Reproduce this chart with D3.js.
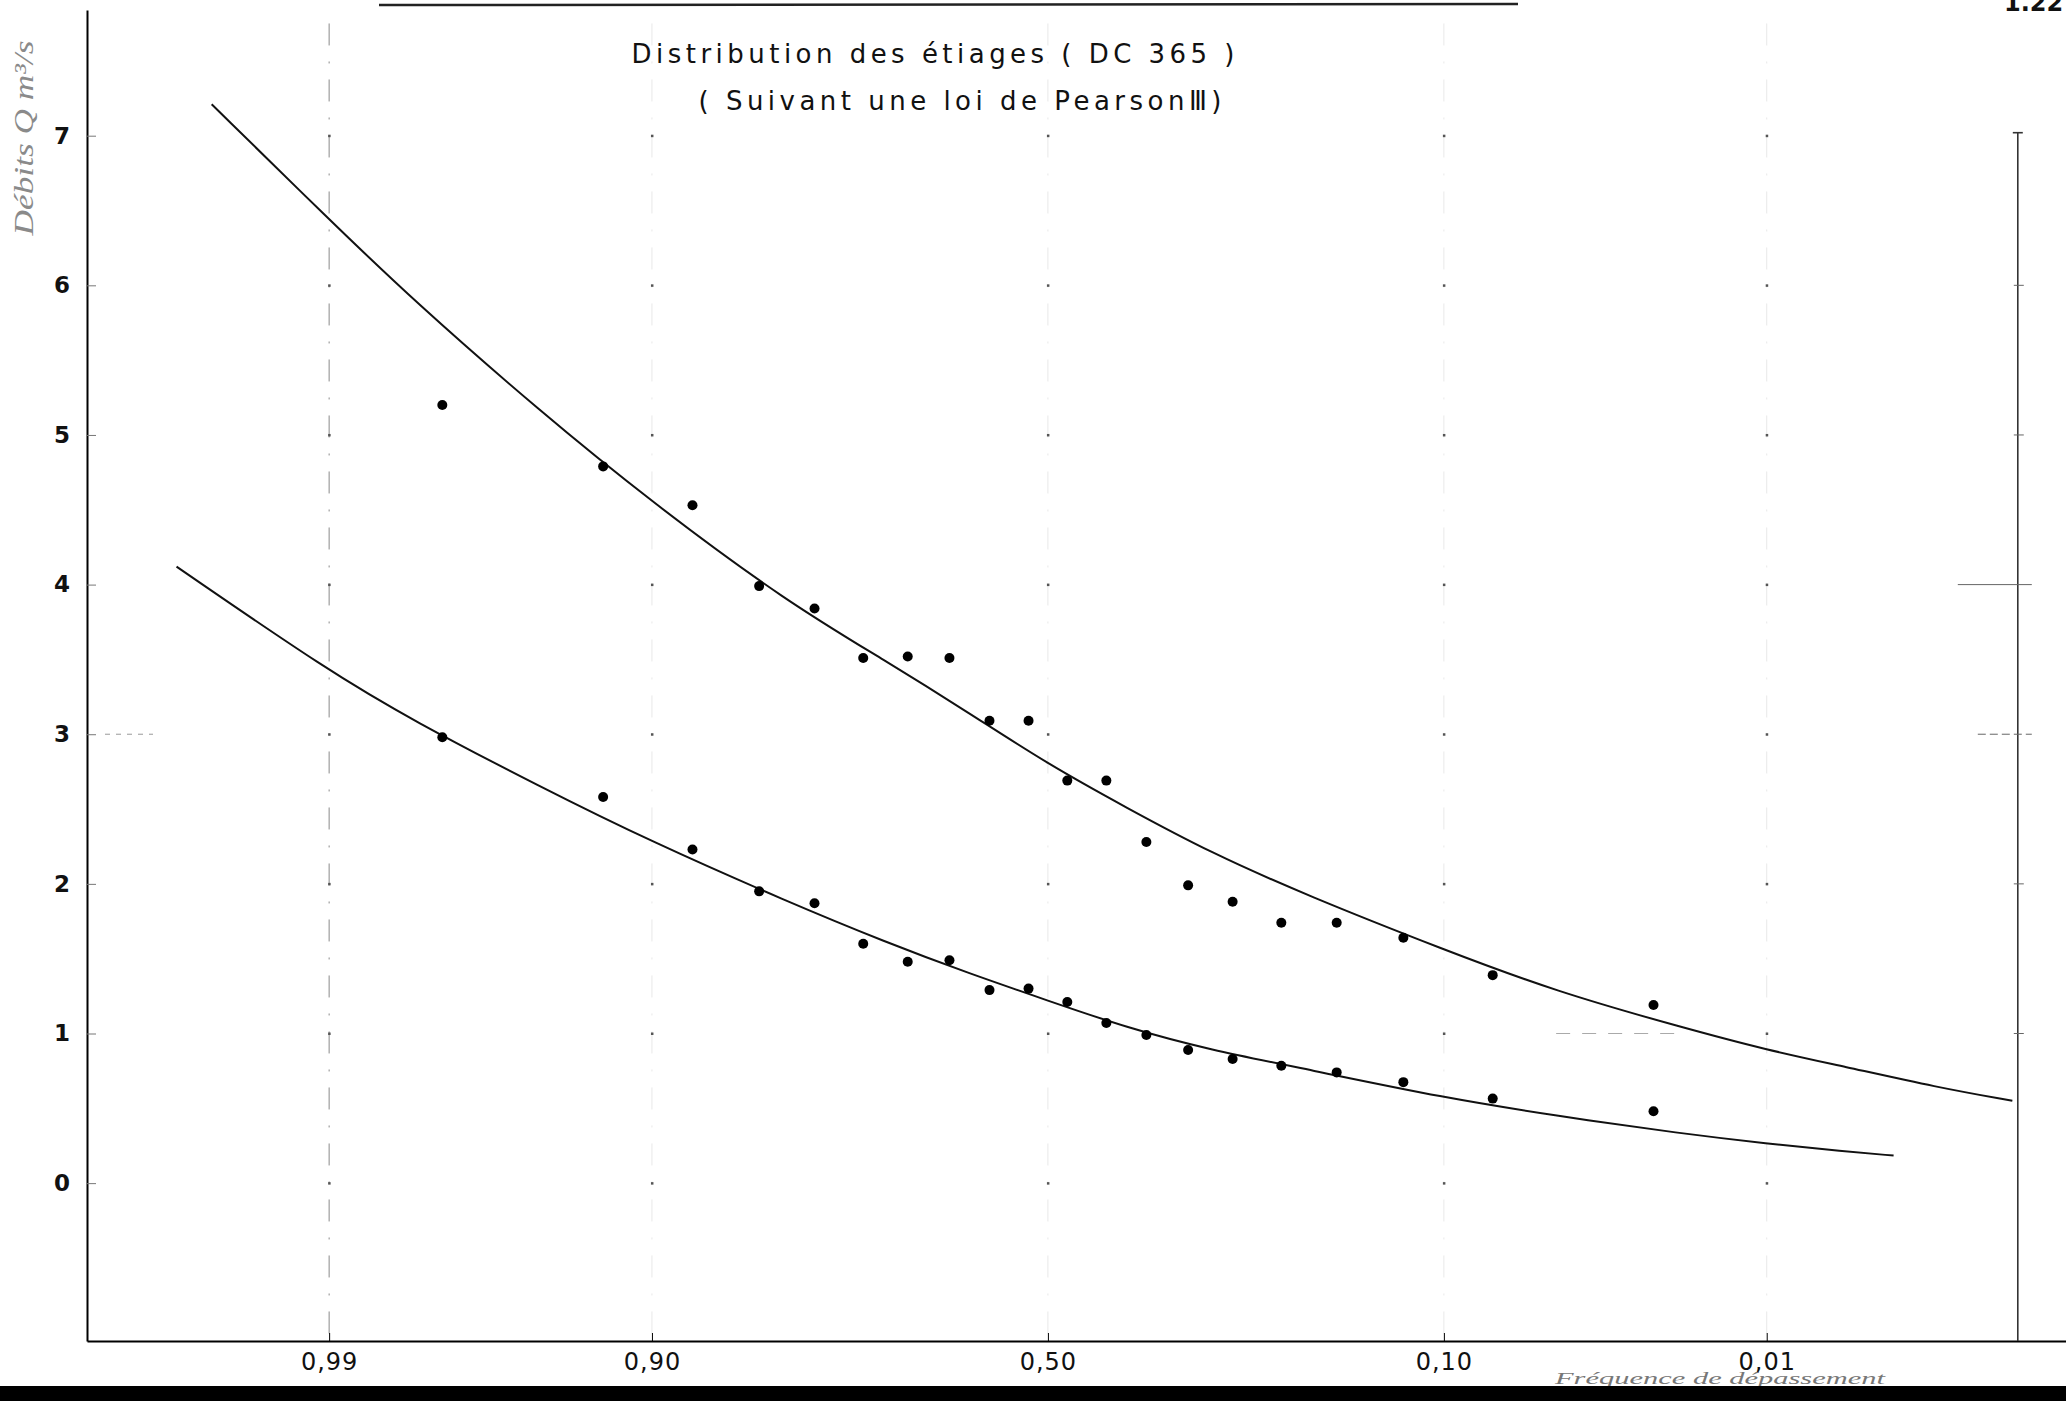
<!DOCTYPE html>
<html>
<head>
<meta charset="utf-8">
<script src="https://cdn.jsdelivr.net/npm/d3@7"></script>
<style>
    body { margin: 0; background: #fff; }
    .frame { display: block; }
</style>
</head>
<body>
<div id="chart"></div>
<script>
const frame_width = 2066;
const frame_height = 1401;
const margins = {left: 87, right: 0, top: 10, bottom: 60};

// exceedance frequencies of the 20 observed years (plotting positions)
const frequencies = [0.975, 0.925, 0.875, 0.825, 0.775, 0.725, 0.675, 0.625, 0.575, 0.525,
                     0.475, 0.425, 0.375, 0.325, 0.275, 0.225, 0.175, 0.125, 0.075, 0.025];

// observed low flows, upper and lower series
const upper_points = [5.20, 4.79, 4.53, 3.99, 3.84, 3.51, 3.52, 3.51, 3.09, 3.09,
                      2.69, 2.69, 2.28, 1.99, 1.88, 1.74, 1.74, 1.64, 1.39, 1.19];
const lower_points = [2.98, 2.58, 2.23, 1.95, 1.87, 1.60, 1.48, 1.49, 1.29, 1.30,
                      1.21, 1.07, 0.99, 0.89, 0.83, 0.785, 0.74, 0.675, 0.565, 0.48];

// fitted Pearson III curves
const upper_curve_freq = [0.9966, 0.99, 0.98, 0.95, 0.90, 0.80, 0.70, 0.60, 0.50, 0.40,
                          0.30, 0.20, 0.10, 0.05, 0.02, 0.01, 0.005, 0.002, 0.0009];
const upper_curve_vals = [7.21, 6.44, 5.90, 5.16, 4.55, 3.88, 3.49, 3.14, 2.80, 2.51,
                          2.21, 1.92, 1.56, 1.28, 1.04, 0.89, 0.78, 0.64, 0.55];
const lower_curve_freq = [0.9976, 0.99, 0.98, 0.95, 0.90, 0.80, 0.70, 0.60, 0.50, 0.40,
                          0.30, 0.20, 0.10, 0.05, 0.02, 0.01, 0.005, 0.0031];
const lower_curve_vals = [4.12, 3.42, 3.09, 2.65, 2.28, 1.88, 1.61, 1.40, 1.22, 1.04,
                          0.89, 0.76, 0.57, 0.45, 0.33, 0.265, 0.213, 0.184];

// axis ticks
const x_tick_freq = [0.99, 0.90, 0.50, 0.10, 0.01];
const x_tick_labels = ["0,99", "0,90", "0,50", "0,10", "0,01"];
const y_ticks = [0, 1, 2, 3, 4, 5, 6, 7];

// inverse of the normal cdf (Acklam), gives the gaussian paper abscissa
function qnorm(p) {
    const a = [-3.969683028665376e+01, 2.209460984245205e+02, -2.759285104469687e+02,
               1.383577518672690e+02, -3.066479806614716e+01, 2.506628277459239e+00];
    const b = [-5.447609879822406e+01, 1.615858368580409e+02, -1.556989798598866e+02,
               6.680131188771972e+01, -1.328068155288572e+01];
    const c = [-7.784894002430293e-03, -3.223964580411365e-01, -2.400758277161838e+00,
               -2.549732539343734e+00, 4.374664141464968e+00, 2.938163982698783e+00];
    const d = [7.784695709041462e-03, 3.224671290700398e-01, 2.445134137142996e+00,
               3.754408661907416e+00];
    const pl = 0.02425;
    let q, r;
    if (p < pl) {
        q = Math.sqrt(-2 * Math.log(p));
        return (((((c[0]*q+c[1])*q+c[2])*q+c[3])*q+c[4])*q+c[5]) /
               ((((d[0]*q+d[1])*q+d[2])*q+d[3])*q+1);
    }
    if (p <= 1 - pl) {
        q = p - 0.5; r = q * q;
        return (((((a[0]*r+a[1])*r+a[2])*r+a[3])*r+a[4])*r+a[5])*q /
               (((((b[0]*r+b[1])*r+b[2])*r+b[3])*r+b[4])*r+1);
    }
    q = Math.sqrt(-2 * Math.log(1 - p));
    return -(((((c[0]*q+c[1])*q+c[2])*q+c[3])*q+c[4])*q+c[5]) /
            ((((d[0]*q+d[1])*q+d[2])*q+d[3])*q+1);
}

// frequency of exceedance -> reduced variable (0,99 on the left)
function reduced(f) { return -qnorm(f); }

const FRAME1 = d3.select("#chart")
    .append("svg")
        .attr("width", frame_width)
        .attr("height", frame_height)
        .attr("class", "frame");

// scales
const X_SCALE = d3.scaleLinear()
    .domain([-3.11, 3.295])
    .range([margins.left, frame_width - margins.right]);

const Y_SCALE = d3.scaleLinear()
    .domain([-1.055, 7.84])
    .range([frame_height - margins.bottom, margins.top]);

const right_border = X_SCALE(3.139);

// faint vertical grid lines at the frequency ticks (only the 0,99 one shows well)
FRAME1.append("g")
    .selectAll("line")
    .data(x_tick_freq)
    .enter()
    .append("line")
        .attr("x1", d => X_SCALE(reduced(d)))
        .attr("x2", d => X_SCALE(reduced(d)))
        .attr("y1", Y_SCALE(7.75))
        .attr("y2", Y_SCALE.range()[0])
        .attr("stroke", (d, i) => i == 0 ? "#8a8a8a" : "#d4d4d4")
        .attr("stroke-opacity", (d, i) => i == 0 ? 1 : 0.5)
        .attr("stroke-width", 1)
        .attr("stroke-dasharray", "22,16,2,16");

// small dots where the grid crosses the unit levels
const grid_dots = [];
x_tick_freq.forEach(f => y_ticks.forEach(v => grid_dots.push({f: f, v: v})));
FRAME1.append("g")
    .selectAll("rect")
    .data(grid_dots)
    .enter()
    .append("rect")
        .attr("x", d => X_SCALE(reduced(d.f)) - 1)
        .attr("y", d => Y_SCALE(d.v) - 1)
        .attr("width", 2.5)
        .attr("height", 2.5)
        .attr("fill", "#555");

// a few faint dashed level marks left on the sheet
FRAME1.append("line")
    .attr("x1", margins.left + 18).attr("x2", margins.left + 66)
    .attr("y1", Y_SCALE(3)).attr("y2", Y_SCALE(3))
    .attr("stroke", "#999").attr("stroke-width", 1)
    .attr("stroke-dasharray", "5,6");
FRAME1.append("line")
    .attr("x1", X_SCALE(reduced(0.05))).attr("x2", X_SCALE(reduced(0.02)))
    .attr("y1", Y_SCALE(1)).attr("y2", Y_SCALE(1))
    .attr("stroke", "#aaa").attr("stroke-width", 1)
    .attr("stroke-dasharray", "14,12");

// x axis
const xAxis = FRAME1.append("g")
    .attr("transform", "translate(0," + Y_SCALE.range()[0] + ")")
    .call(d3.axisBottom(X_SCALE)
        .tickValues(x_tick_freq.map(reduced))
        .tickFormat((d, i) => x_tick_labels[i])
        .tickSizeInner(-8)
        .tickSizeOuter(0)
        .tickPadding(12));
xAxis.select(".domain").attr("stroke-width", 2.2);
xAxis.selectAll("text")
    .attr("font-family", "'DejaVu Sans', sans-serif")
    .attr("font-size", "24px")
    .attr("letter-spacing", "1px")
    .attr("fill", "#111");

// y axis
const yAxis = FRAME1.append("g")
    .attr("transform", "translate(" + margins.left + ",0)")
    .call(d3.axisLeft(Y_SCALE)
        .tickValues(y_ticks)
        .tickFormat(d3.format("d"))
        .tickSizeInner(-9)
        .tickSizeOuter(0)
        .tickPadding(17));
yAxis.select(".domain").attr("stroke-width", 2);
yAxis.selectAll(".tick line").attr("stroke", "#777");
yAxis.selectAll("text")
    .attr("font-family", "'DejaVu Sans', sans-serif")
    .attr("font-weight", "bold")
    .attr("font-size", "23px")
    .attr("fill", "#111");

// right border line with short level marks
FRAME1.append("line")
    .attr("x1", right_border).attr("x2", right_border)
    .attr("y1", Y_SCALE(7.02)).attr("y2", Y_SCALE.range()[0])
    .attr("stroke", "#333")
    .attr("stroke-width", 1.6);
FRAME1.append("line")
    .attr("x1", right_border - 5).attr("x2", right_border + 5)
    .attr("y1", Y_SCALE(7.02)).attr("y2", Y_SCALE(7.02))
    .attr("stroke", "#333")
    .attr("stroke-width", 1.6);
FRAME1.append("g")
    .selectAll("line")
    .data(y_ticks.slice(1, 7))
    .enter()
    .append("line")
        .attr("x1", d => right_border - (d == 4 ? 60 : (d == 3 ? 40 : 4)))
        .attr("x2", d => right_border + (d == 4 || d == 3 ? 14 : 6))
        .attr("y1", d => Y_SCALE(d))
        .attr("y2", d => Y_SCALE(d))
        .attr("stroke", "#666")
        .attr("stroke-width", 1)
        .attr("stroke-dasharray", d => d == 3 ? "8,4" : null);

// fitted curves
const line = d3.line()
    .x(d => X_SCALE(reduced(d[0])))
    .y(d => Y_SCALE(d[1]))
    .curve(d3.curveBasis);

FRAME1.append("path")
    .datum(d3.zip(upper_curve_freq, upper_curve_vals))
    .attr("d", line)
    .attr("fill", "none")
    .attr("stroke", "#111")
    .attr("stroke-width", 2);

FRAME1.append("path")
    .datum(d3.zip(lower_curve_freq, lower_curve_vals))
    .attr("d", line)
    .attr("fill", "none")
    .attr("stroke", "#111")
    .attr("stroke-width", 2);

// observed points
FRAME1.append("g")
    .selectAll("circle")
    .data(d3.zip(frequencies, upper_points).concat(d3.zip(frequencies, lower_points)))
    .enter()
    .append("circle")
        .attr("cx", d => X_SCALE(reduced(d[0])))
        .attr("cy", d => Y_SCALE(d[1]))
        .attr("r", 5)
        .attr("fill", "#000");

// titles
FRAME1.append("text")
    .attr("x", 933)
    .attr("y", 63)
    .attr("text-anchor", "middle")
    .attr("textLength", 603)
    .attr("lengthAdjust", "spacing")
    .attr("font-family", "'DejaVu Sans', sans-serif")
    .attr("font-size", "26px")
    .attr("fill", "#111")
    .text("Distribution  des étiages ( DC 365 )");

FRAME1.append("text")
    .attr("x", 960)
    .attr("y", 110)
    .attr("text-anchor", "middle")
    .attr("textLength", 523)
    .attr("lengthAdjust", "spacing")
    .attr("font-family", "'DejaVu Sans', sans-serif")
    .attr("font-size", "26px")
    .attr("fill", "#111")
    .text("( Suivant une loi de PearsonⅢ)");

// y axis title (faint, vertical)
FRAME1.append("text")
    .attr("transform", "translate(33,138) rotate(-90)")
    .attr("text-anchor", "middle")
    .attr("textLength", 195)
    .attr("lengthAdjust", "spacingAndGlyphs")
    .attr("font-family", "'Liberation Serif', serif")
    .attr("font-style", "italic")
    .attr("font-size", "27px")
    .attr("fill", "#8a8a8a")
    .text("Débits Q m³/s");

// x axis title
FRAME1.append("text")
    .attr("x", 1555)
    .attr("y", 1384)
    .attr("textLength", 330)
    .attr("lengthAdjust", "spacingAndGlyphs")
    .attr("font-family", "'Liberation Serif', serif")
    .attr("font-style", "italic")
    .attr("font-size", "17px")
    .attr("fill", "#777")
    .text("Fréquence de dépassement");

// scan border bits: top rule, bottom black band, page number
FRAME1.append("line")
    .attr("x1", 379).attr("x2", 1518)
    .attr("y1", 5).attr("y2", 4)
    .attr("stroke", "#222")
    .attr("stroke-width", 2.5);

FRAME1.append("rect")
    .attr("x", 0)
    .attr("y", 1386)
    .attr("width", frame_width)
    .attr("height", 15)
    .attr("fill", "#000");

FRAME1.append("text")
    .attr("x", 2004)
    .attr("y", 11)
    .attr("font-family", "'DejaVu Sans', sans-serif")
    .attr("font-weight", "bold")
    .attr("font-size", "24px")
    .attr("fill", "#111")
    .text("1.22");
</script>
</body>
</html>
